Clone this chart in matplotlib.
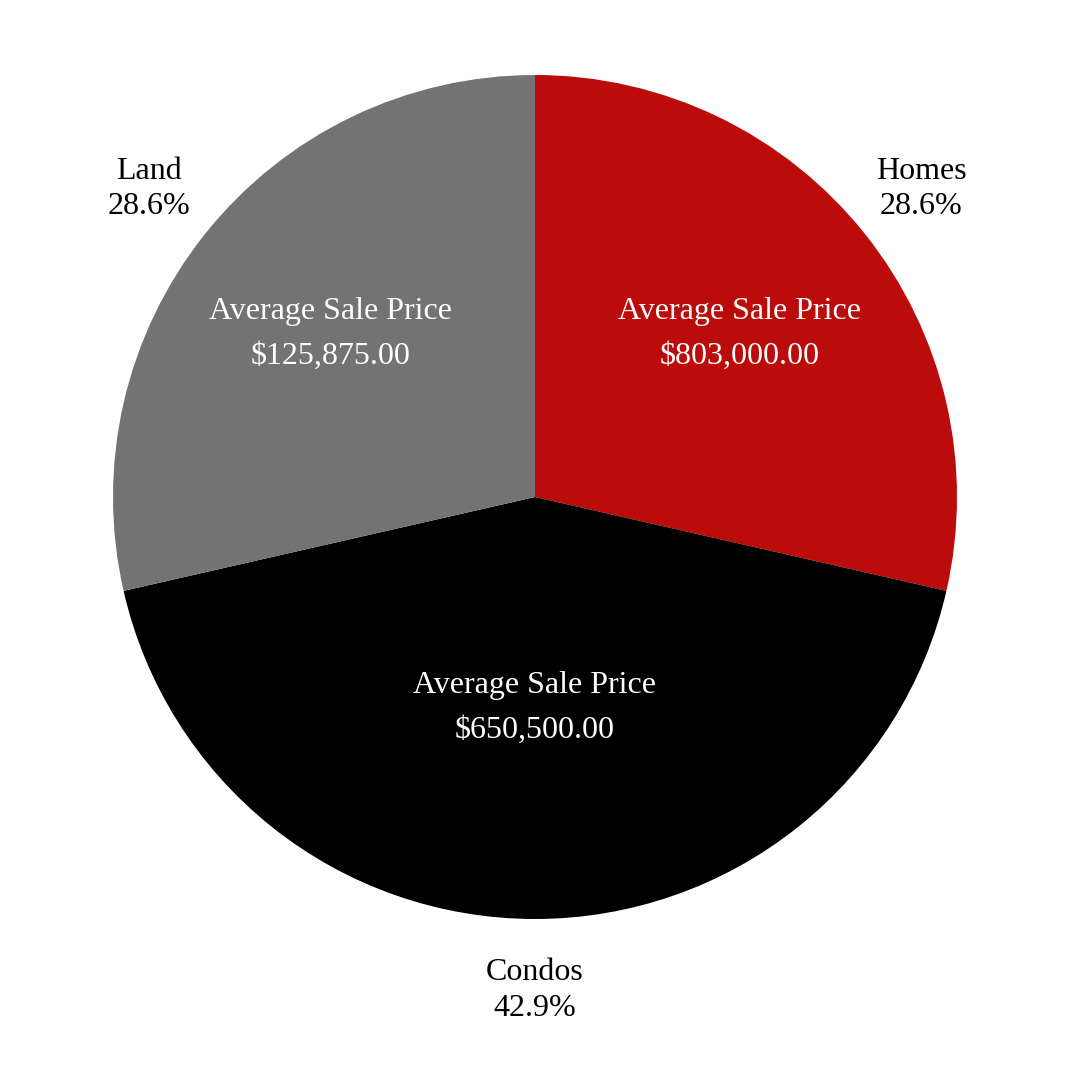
import matplotlib.pyplot as plt
import numpy as np

categories = ['Homes', 'Condos', 'Land']
counts = [2, 3, 2]
avg_price = ['$803,000.00', '$650,500.00', '$125,875.00']
colors = ['#bb0b0b', '#000000', '#737373']

plt.rcParams['font.family'] = ['Liberation Serif', 'DejaVu Serif']

fig = plt.figure(figsize=(10.8, 10.8), dpi=100)
r = 422 / 1080
cx, cy = 535 / 1080, 1 - 497 / 1080
ax = fig.add_axes([cx - r, cy - r, 2 * r, 2 * r])

total = sum(counts)
wedges, texts = ax.pie(counts, colors=colors, startangle=90, counterclock=False,
                       labels=[f'{c}\n{n / total * 100:.1f}%' for c, n in zip(categories, counts)],
                       labeldistance=1.17, radius=1,
                       textprops=dict(fontsize=23, ha='center', va='center', linespacing=1.3))
ax.set_xlim(-1, 1)
ax.set_ylim(-1, 1)

inner = [0.62, 0.5, 0.62]
for w, price, d in zip(wedges, avg_price, inner):
    ang = np.deg2rad((w.theta1 + w.theta2) / 2)
    x, y = d * np.cos(ang), d * np.sin(ang)
    ax.text(x, y, f'Average Sale Price\n{price}', color='white', fontsize=23,
            ha='center', va='center', linespacing=1.7)

fig.savefig('out.png', dpi=100)
